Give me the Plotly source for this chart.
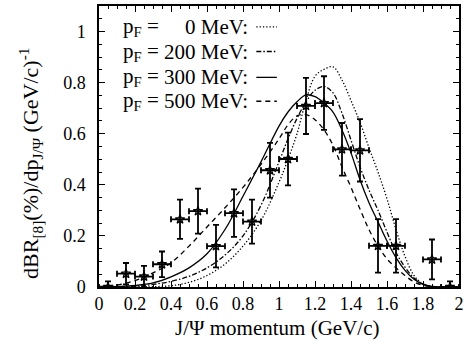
import plotly.graph_objects as go

# ---- data points (J/psi momentum, dBR/dp) ----
p_data = [0.05, 0.15, 0.25, 0.35, 0.45, 0.55, 0.65, 0.75, 0.85, 0.95,
          1.05, 1.15, 1.25, 1.35, 1.45, 1.55, 1.65, 1.85, 1.95]
y_data = [0.0, 0.052, 0.041, 0.089, 0.265, 0.297, 0.160, 0.289, 0.256, 0.457,
          0.501, 0.709, 0.720, 0.539, 0.535, 0.161, 0.161, 0.108, 0.0]
y_err = [0.022, 0.042, 0.042, 0.050, 0.077, 0.088, 0.083, 0.093, 0.086, 0.107,
         0.103, 0.110, 0.105, 0.103, 0.122, 0.105, 0.105, 0.078, 0.022]
x_err = [0.05] * len(p_data)

# ---- model curves ----
p_curve = [0.0, 0.1, 0.2, 0.3, 0.4, 0.5, 0.6, 0.7, 0.8, 0.9, 1.0, 1.05, 1.1, 1.15,
           1.2, 1.25, 1.3, 1.35, 1.4, 1.45, 1.5, 1.55, 1.6, 1.65, 1.7, 1.75, 1.8,
           1.85, 1.9, 2.0]
y_pf0 = [0.0, 0.0, 0.0, 0.001, 0.005, 0.018, 0.045, 0.09, 0.16, 0.26, 0.41, 0.50,
         0.60, 0.73, 0.825, 0.852, 0.862, 0.81, 0.73, 0.645, 0.545, 0.45, 0.345,
         0.225, 0.12, 0.045, 0.012, 0.002, 0.0, 0.0]
y_pf200 = [0.0, 0.001, 0.003, 0.01, 0.022, 0.042, 0.075, 0.125, 0.20, 0.32, 0.49,
           0.58, 0.66, 0.725, 0.77, 0.785, 0.76, 0.68, 0.575, 0.47, 0.38, 0.30,
           0.215, 0.135, 0.078, 0.035, 0.012, 0.002, 0.0, 0.0]
y_pf300 = [0.0, 0.002, 0.006, 0.016, 0.04, 0.075, 0.13, 0.225, 0.355, 0.49, 0.63,
           0.685, 0.725, 0.752, 0.745, 0.72, 0.685, 0.615, 0.525, 0.42, 0.33,
           0.255, 0.18, 0.115, 0.065, 0.03, 0.01, 0.002, 0.0, 0.0]
y_pf500 = [0.002, 0.008, 0.025, 0.055, 0.095, 0.16, 0.235, 0.31, 0.39, 0.48, 0.58,
           0.635, 0.67, 0.675, 0.655, 0.615, 0.555, 0.47, 0.39, 0.305, 0.225,
           0.16, 0.11, 0.075, 0.045, 0.02, 0.007, 0.001, 0.0, 0.0]

legend_left = ["p<sub>F</sub> =", "p<sub>F</sub> =", "p<sub>F</sub> =", "p<sub>F</sub> ="]
legend_right = ["0 MeV:", "200 MeV:", "300 MeV:", "500 MeV:"]

FONT = "Liberation Serif"
curves = [
    (y_pf0, "1.3px,2px"),
    (y_pf200, "5px,2px,1.5px,2px"),
    (y_pf300, "solid"),
    (y_pf500, "5px,4px"),
]

fig = go.Figure()
for ys, dash in curves:
    fig.add_trace(go.Scatter(x=p_curve, y=ys, mode="lines", line_shape="spline",
                             line=dict(color="black", width=1.3, dash=dash),
                             showlegend=False, hoverinfo="skip"))

fig.add_trace(go.Scatter(
    x=p_data, y=y_data, mode="markers",
    marker=dict(symbol="star-open", size=7, color="black", line=dict(width=1.3, color="black")),
    error_y=dict(type="data", array=y_err, visible=True, color="black", thickness=1.8, width=3),
    error_x=dict(type="data", array=x_err, visible=True, color="black", thickness=1.8, width=3),
    showlegend=False))

# legend (text + line samples), placed in paper coords
row_y = [0.926, 0.838, 0.746, 0.661]
for i, (ys, dash) in enumerate(curves):
    fig.add_annotation(x=0.06, y=row_y[i], xref="paper", yref="paper", text=legend_left[i],
                       showarrow=False, xanchor="left", yanchor="middle",
                       font=dict(family=FONT, size=21, color="black"))
    fig.add_annotation(x=0.42, y=row_y[i], xref="paper", yref="paper", text=legend_right[i],
                       showarrow=False, xanchor="right", yanchor="middle",
                       font=dict(family=FONT, size=21, color="black"))
    fig.add_shape(type="line", xref="paper", yref="paper", x0=0.437, x1=0.494,
                  y0=row_y[i], y1=row_y[i],
                  line=dict(color="black", width=1.3, dash=dash))

fig.add_annotation(x=0.494, y=-0.145, xref="paper", yref="paper",
                   text="J/Ψ momentum (GeV/c)", showarrow=False,
                   xanchor="center", yanchor="middle",
                   font=dict(family=FONT, size=21, color="black"))
fig.add_annotation(x=-0.19, y=0.44, xref="paper", yref="paper",
                   text="dBR<sub>[8]</sub>(%)/dp<sub>J/Ψ</sub> (GeV/c)<sup>-1</sup>",
                   showarrow=False, textangle=-90, xanchor="center", yanchor="middle",
                   font=dict(family=FONT, size=22, color="black"))

axis_common = dict(
    showline=True, linecolor="black", linewidth=1.5, mirror="ticks",
    ticks="inside", ticklen=6, tickwidth=1.2, tickcolor="black",
    showgrid=False, zeroline=False,
    tickfont=dict(family=FONT, size=18, color="black"),
    minor=dict(ticks="inside", ticklen=3, tickwidth=1, tickcolor="black", dtick=0.05),
)
fig.update_xaxes(range=[0, 2], tick0=0, dtick=0.2, ticklabelstandoff=0, **axis_common)
fig.update_yaxes(range=[0, 1.1], tick0=0, dtick=0.2, ticklabelstandoff=8, **axis_common)

fig.update_layout(
    width=468, height=349,
    margin=dict(l=99, r=9, t=4, b=62),
    paper_bgcolor="white", plot_bgcolor="white",
    font=dict(family=FONT, color="black"),
)
fig.write_html("out.html", config={"displayModeBar": False},
               post_script="document.body.style.margin='0';document.body.style.overflow='hidden';")
